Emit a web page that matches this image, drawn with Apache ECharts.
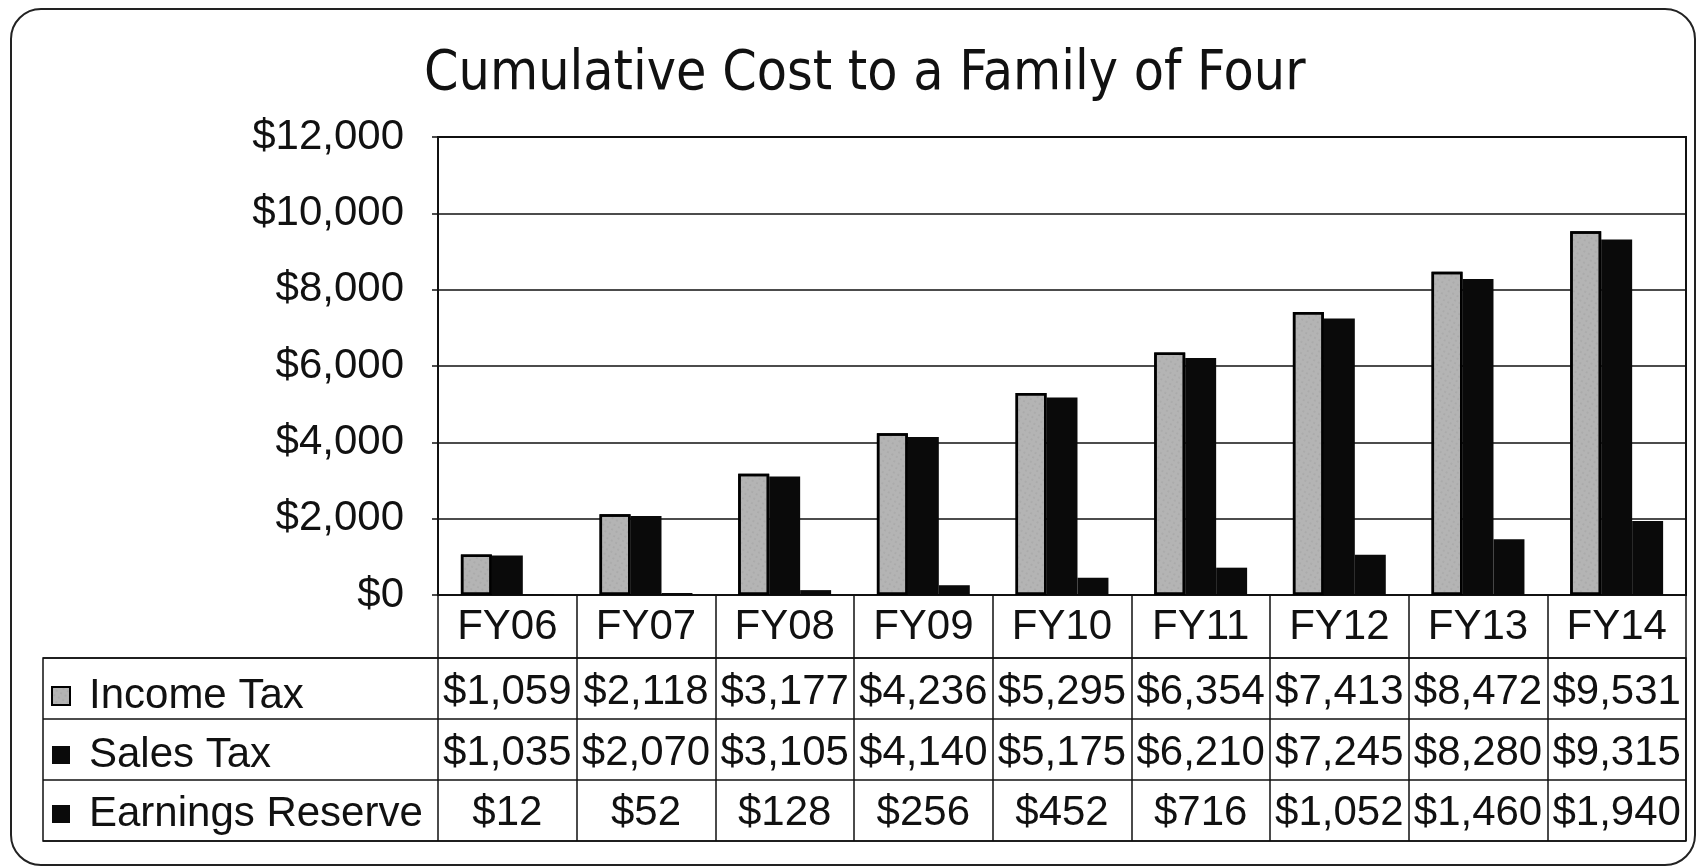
<!DOCTYPE html>
<html>
<head>
<meta charset="utf-8">
<script src="https://cdn.jsdelivr.net/npm/echarts@6/dist/echarts.min.js"></script>
<style>
html,body{margin:0;padding:0;background:#fff;}
#c{width:1706px;height:868px;}
</style>
</head>
<body>
<div id="c"></div>
<script>
const categories = ['FY06','FY07','FY08','FY09','FY10','FY11','FY12','FY13','FY14'];
const incomeTax = [1059,2118,3177,4236,5295,6354,7413,8472,9531];
const salesTax = [1035,2070,3105,4140,5175,6210,7245,8280,9315];
const earningsReserve = [12,52,128,256,452,716,1052,1460,1940];
const seriesNames = ['Income Tax','Sales Tax','Earnings Reserve'];
const tableRows = [incomeTax, salesTax, earningsReserve];

const money = v => '$' + Number(v).toLocaleString('en-US');
const TXT = '"Liberation Sans", Arial, sans-serif';
const INK = '#111';
const FS = 42;

const chart = echarts.init(document.getElementById('c'));

const rowMargins = [97, 158, 218];
const extraX = tableRows.map((row, i) => ({
  type: 'category',
  gridIndex: 0,
  data: categories,
  position: 'bottom',
  axisLine: {show: false},
  axisTick: {show: false},
  splitLine: {show: false},
  axisLabel: {
    interval: 0,
    margin: rowMargins[i],
    verticalAlign: 'middle',
    fontFamily: TXT, fontSize: FS, color: INK,
    formatter: (v, idx) => money(row[idx])
  }
}));

const option = {
  backgroundColor: '#fff',
  animation: false,
  title: {
    text: 'Cumulative Cost to a Family of Four',
    left: 419, top: 41,
    textStyle: {fontFamily: '"DejaVu Sans Condensed", "Open Sans", sans-serif', fontWeight: 'normal', fontSize: 55, lineHeight: 58, color: INK}
  },
  graphic: [{
    type: 'rect', silent: true,
    shape: {x: 11, y: 9, width: 1684, height: 856, r: 30},
    style: {fill: 'none', stroke: '#222', lineWidth: 2}
  }],
  legend: {
    orient: 'vertical',
    left: 46, top: 670,
    itemWidth: 18, itemHeight: 18, itemGap: 17,
    icon: 'rect',
    selectedMode: false,
    data: seriesNames,
    textStyle: {fontFamily: TXT, fontSize: FS, lineHeight: 42, color: INK, padding: [0,0,0,14]}
  },
  grid: [
    {left: 438, right: 20, top: 137, bottom: 273, show: true, borderColor: INK, borderWidth: 2, containLabel: false},
    {left: 43, right: 20, top: 658, bottom: 27, show: true, borderColor: INK, borderWidth: 1.5, containLabel: false}
  ],
  xAxis: [
    {
      type: 'category', gridIndex: 0, data: categories, position: 'bottom',
      axisLine: {show: true, lineStyle: {color: INK, width: 2}},
      axisTick: {show: true, interval: 0, length: 246, lineStyle: {color: INK, width: 1.5}},
      axisLabel: {interval: 0, margin: 32, verticalAlign: 'middle', fontFamily: TXT, fontSize: FS, color: INK},
      splitLine: {show: false}
    },
    ...extraX,
    {type: 'value', gridIndex: 1, min: 0, max: 1, show: false}
  ],
  yAxis: [
    {
      type: 'value', gridIndex: 0, min: 0, max: 12000, interval: 2000,
      axisLine: {show: true, lineStyle: {color: INK, width: 2}},
      axisTick: {show: true, length: 6, lineStyle: {color: INK, width: 1.5}},
      axisLabel: {margin: 34, fontFamily: TXT, fontSize: FS, color: INK, formatter: v => money(v)},
      splitLine: {show: true, lineStyle: {color: INK, width: 1.5}}
    },
    {
      type: 'category', gridIndex: 1, data: seriesNames, inverse: true,
      axisLine: {show: false}, axisTick: {show: false}, axisLabel: {show: false},
      splitLine: {show: true, interval: 0, lineStyle: {color: INK, width: 1.5}}
    }
  ],
  series: [
    {
      name: 'Income Tax', type: 'bar', xAxisIndex: 0, yAxisIndex: 0,
      data: incomeTax, barGap: '0%', barCategoryGap: '33%',
      itemStyle: {
        color: '#b4b4b4', borderColor: '#000', borderWidth: 2.5,
        decal: {symbol: 'circle', symbolSize: 0.6, color: 'rgba(95,95,95,0.45)', dashArrayX: [[2, 3]], dashArrayY: [2, 3], rotation: 0.5}
      }
    },
    {
      name: 'Sales Tax', type: 'bar', xAxisIndex: 0, yAxisIndex: 0,
      data: salesTax, barGap: '0%', barCategoryGap: '33%',
      itemStyle: {color: '#0a0a0a'}
    },
    {
      name: 'Earnings Reserve', type: 'bar', xAxisIndex: 0, yAxisIndex: 0,
      data: earningsReserve, barGap: '0%', barCategoryGap: '33%',
      itemStyle: {color: '#0a0a0a'}
    }
  ]
};
chart.setOption(option);
</script>
</body>
</html>
